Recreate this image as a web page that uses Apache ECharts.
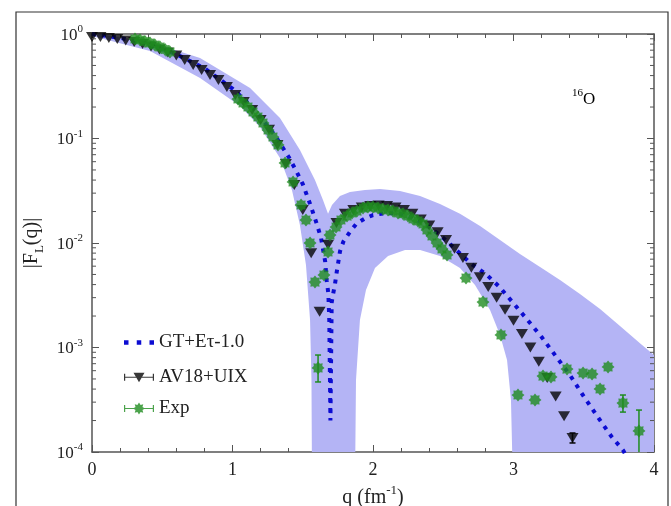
<!DOCTYPE html>
<html><head><meta charset="utf-8">
<script src="https://cdn.jsdelivr.net/npm/echarts@6/dist/echarts.min.js"></script>
<style>html,body{margin:0;padding:0;background:#fff}#c{width:671px;height:506px}</style>
</head><body><div id="c"></div>
<script>
// ---- data ----
const avQ = [0,0.06,0.12,0.18,0.24,0.30,0.36,0.42,0.48,0.54,0.60,0.66,0.72,0.78,0.84,0.90,0.96,1.02,1.08,1.14,1.20,1.26,1.32,1.38,1.44,1.50,1.56,1.62,1.68,1.74,1.80,1.86,1.92,1.98,2.04,2.10,2.16,2.22,2.28,2.34,2.40,2.46,2.52,2.58,2.64,2.70,2.76,2.82,2.88,2.94,3.00,3.06,3.12,3.18,3.24,3.30,3.36,3.42];
const avV = [0.936,0.936,0.916,0.896,0.867,0.838,0.802,0.759,0.711,0.665,0.623,0.564,0.505,0.452,0.405,0.363,0.311,0.261,0.224,0.187,0.150,0.121,0.0867,0.057,0.0359,0.0207,0.0080,0.0022,0.0096,0.0155,0.0190,0.0207,0.0219,0.0226,0.0229,0.0226,0.0219,0.0207,0.0190,0.0168,0.0147,0.0127,0.0107,0.0088,0.0072,0.0058,0.0047,0.0038,0.0030,0.0023,0.0018,0.00135,0.0010,0.00073,0.00051,0.00034,0.00022,0.000136];
const avErrQ = [3.42];
const avErrLo = [0.000122];
const avErrHi = [0.000152];

const expQ = [0.306,0.342,0.377,0.413,0.448,0.484,0.520,0.555,
  1.039,1.075,1.110,1.146,1.181,1.217,1.253,1.288,1.324,1.374,1.431,1.488,1.523,1.552,1.587,1.609,1.651,1.680,1.694,1.737,1.772,1.815,1.851,1.886,1.929,1.964,2.000,2.036,2.071,2.107,2.142,2.178,2.214,2.249,
  2.285,2.320,2.356,2.384,2.420,2.456,2.491,2.527,
  2.662,2.783,2.911,3.032,3.153,3.210,3.267,3.381,3.495,3.559,3.616,3.673,3.779,3.893];
const expV = [0.896,0.876,0.848,0.820,0.785,0.751,0.711,0.673,
  0.2387,0.2188,0.2001,0.1793,0.1606,0.1407,0.1206,0.1033,0.0867,0.0583,0.0384,0.0231,0.0166,0.0100,0.00423,0.000637,0.00494,0.0082,0.01193,0.01422,0.0166,0.0181,0.0194,0.0202,0.0216,0.0221,0.0221,0.0216,0.0211,0.0207,0.0202,0.0194,0.0190,0.0181,
  0.0170,0.01625,0.0152,0.01332,0.01167,0.0100,0.00877,0.00768,
  0.00462,0.00272,0.00132,0.000351,0.000315,0.000533,0.000522,0.000622,0.000570,0.000557,0.000401,0.000651,0.000294,0.000159];
const expErrQ = [1.609,3.779,3.893];
const expErrLo = [0.000468,0.000241,0.00008];
const expErrHi = [0.000847,0.000351,0.000252];

const gtQ = [0,0.2,0.4,0.6,0.8,1.0,1.1,1.2,1.3,1.4,1.45,1.5,1.55,1.6,1.63,1.66,1.67,1.682,1.689,1.697,1.706,1.717,1.73,1.742,1.765,1.789,1.836,1.884,1.943,2.0,2.1,2.2,2.3,2.4,2.5,2.6,2.7,2.8,2.9,3.0,3.1,3.2,3.3,3.4,3.5,3.6,3.7,3.78,3.85];
const gtV = [1.0,0.92,0.80,0.64,0.47,0.30,0.225,0.16,0.108,0.0665,0.050,0.0367,0.0241,0.0152,0.0112,0.0066,0.0044,0.0033,0.0018,0.0002,0.0027,0.0033,0.0041,0.0053,0.0083,0.0103,0.0128,0.0154,0.0172,0.0185,0.0194,0.0190,0.0170,0.0142,0.0112,0.0084,0.0063,0.0051,0.0038,0.00265,0.00183,0.00126,0.00083,0.00055,0.00034,0.000216,0.000139,0.000104,0.00007];

// uncertainty band of GT+Etau
const bandUpQ = [0,0.413,0.769,1.125,1.338,1.480,1.587,1.644,1.680,1.708,1.765,1.836,1.943,2.050,2.192,2.335,2.477,2.619,2.762,2.904,3.046,3.189,3.331,3.473,3.616,3.758,3.900,4.0];
const bandUpV = [1.02,0.838,0.589,0.304,0.157,0.0776,0.0401,0.0258,0.0190,0.0231,0.0282,0.0308,0.0322,0.0329,0.0315,0.0282,0.0236,0.0190,0.01455,0.01069,0.00785,0.00589,0.00443,0.00325,0.00234,0.00161,0.00110,0.000847];
const bandLoQ = [0,0.413,0.769,1.053,1.196,1.338,1.423,1.480,1.523,1.552,1.562,1.566];
const bandLoV = [0.957,0.688,0.379,0.2046,0.1288,0.0651,0.0321,0.01486,0.00616,0.00183,0.000489,0.00005];
const archQ = [1.872,1.879,1.907,1.950,2.014,2.107,2.228,2.335,2.477,2.619,2.726,2.833,2.904,2.954,2.982,2.996];
const archV = [0.00005,0.000489,0.00183,0.00355,0.00577,0.00751,0.00857,0.00857,0.00751,0.00577,0.00396,0.00229,0.00132,0.000759,0.000315,0.00005];
const bandFloor = 0.00001;

const yMinor = [0.0002,0.0003,0.0004,0.0005,0.0006,0.0007,0.0008,0.0009,
  0.002,0.003,0.004,0.005,0.006,0.007,0.008,0.009,
  0.02,0.03,0.04,0.05,0.06,0.07,0.08,0.09,
  0.2,0.3,0.4,0.5,0.6,0.7,0.8,0.9];

const names = ['GT+E\u03c4-1.0','AV18+UIX','Exp'];

// ---- build ----
const zip = (a,b) => a.map((v,i)=>[v,b[i]]);
const poly = [].concat(
  zip(bandUpQ,bandUpV),
  [[4,bandFloor],[archQ[archQ.length-1],bandFloor]],
  zip(archQ,archV).reverse(),
  [[archQ[0],bandFloor],[bandLoQ[bandLoQ.length-1],bandFloor]],
  zip(bandLoQ,bandLoV).reverse()
);

const SERIF = '"Liberation Serif","Times New Roman",serif';
const TXT = '#222';
const AX = '#555';
const supRich = {
  b:{fontFamily:SERIF,fontSize:17,color:TXT,lineHeight:20,verticalAlign:'bottom'},
  s:{fontFamily:SERIF,fontSize:11,color:TXT,lineHeight:10,verticalAlign:'top'}
};
const nameRich = {
  b:{fontFamily:SERIF,fontSize:20,color:TXT,lineHeight:24,verticalAlign:'bottom'},
  s:{fontFamily:SERIF,fontSize:13,color:TXT,lineHeight:12,verticalAlign:'top'}
};
const subRich = {
  b:{fontFamily:SERIF,fontSize:20,color:TXT,lineHeight:24,verticalAlign:'top'},
  l:{fontFamily:SERIF,fontSize:13,color:TXT,lineHeight:13,verticalAlign:'bottom'}
};
const STAR = 'path://M20,10L16.5,12.9L17.07,17.07L12.9,16.5L10,20L7.1,16.5L2.93,17.07L3.5,12.9L0,10L3.5,7.1L2.93,2.93L7.1,3.5L10,0L12.9,3.5L17.07,2.93L16.5,7.1Z';
const ICON_GT = 'path://M0,0H4.5V4.5H0Z M12.75,0H17.25V4.5H12.75Z M25.5,0H30V4.5H25.5Z';
const ICON_AV = 'path://M0,5.4H30V6.6H0Z M0,2.5H1.2V9.5H0Z M28.8,2.5H30V9.5H28.8Z M9.5,1.5H20.5L15,11Z';
const ICON_EXP = 'path://M0,5.4H30V6.6H0Z M0,2.5H1.2V9.5H0Z M28.8,2.5H30V9.5H28.8Z M21,6L18.5,7.6L19.24,10.24L16.6,9.5L15,12L13.4,9.5L10.76,10.24L11.5,7.6L9,6L11.5,4.4L10.76,1.76L13.4,2.5L15,0L16.6,2.5L19.24,1.76L18.5,4.4Z';
const GREEN = '#1f8c1f';
const BLUE = '#0c0cd2';

function clipRect(params){
  const cs = params.coordSys;
  return {type:'rect', shape:{x:cs.x,y:cs.y,width:cs.width,height:cs.height}};
}
function errBars(color){
  return function(params, api){
    const x = api.value(0);
    const p1 = api.coord([x, api.value(1)]);
    const p2 = api.coord([x, api.value(2)]);
    const w = 3;
    const st = {stroke:color, lineWidth:1.5};
    return {type:'group', clipPath: clipRect(params), children:[
      {type:'line', shape:{x1:p1[0],y1:p1[1],x2:p2[0],y2:p2[1]}, style:st},
      {type:'line', shape:{x1:p1[0]-w,y1:p1[1],x2:p1[0]+w,y2:p1[1]}, style:st},
      {type:'line', shape:{x1:p2[0]-w,y1:p2[1],x2:p2[0]+w,y2:p2[1]}, style:st}
    ]};
  };
}

const legendBase = {orient:'vertical', left:124, padding:0, itemWidth:30, itemHeight:12,
  textStyle:{fontFamily:SERIF, fontSize:19, color:TXT}, selectedMode:false};

const option = {
  animation:false,
  backgroundColor:'#fff',
  grid:{left:92, right:17, top:34, bottom:54, containLabel:false, outerBoundsMode:'none'},
  graphic:[
    {type:'rect', shape:{x:16,y:12,width:652,height:520}, style:{fill:'none',stroke:'#333',lineWidth:1.2}, silent:true, z:-10},
    {type:'text', left:572, top:88, style:{text:'{s|16}{b|O}', rich:supRich}, z:10}
  ],
  legend:[
    Object.assign({}, legendBase, {top:333, data:[{name:names[0], icon:ICON_GT}]}),
    Object.assign({}, legendBase, {top:368, data:[{name:names[1], icon:ICON_AV}]}),
    Object.assign({}, legendBase, {top:399, data:[{name:names[2], icon:ICON_EXP}]})
  ],
  xAxis:[{
    type:'value', min:0, max:4, interval:1, position:'bottom',
    axisLine:{show:true, onZero:false, lineStyle:{color:AX, width:1.5}},
    axisTick:{show:true, inside:true, length:7, lineStyle:{color:AX}},
    minorTick:{show:true, splitNumber:5, length:4, lineStyle:{color:AX}},
    splitLine:{show:false}, minorSplitLine:{show:false},
    axisLabel:{margin:9, fontFamily:SERIF, fontSize:18, color:TXT},
    name:'{b|q (fm}{s|-1}{b|)}', nameLocation:'middle', nameGap:29,
    nameTextStyle:{rich:nameRich}
  },{
    type:'value', min:0, max:4, interval:1, position:'top',
    axisLine:{show:true, onZero:false, lineStyle:{color:AX, width:1.5}},
    axisTick:{show:true, inside:true, length:7, lineStyle:{color:AX}},
    minorTick:{show:true, splitNumber:5, length:4, lineStyle:{color:AX}},
    splitLine:{show:false}, axisLabel:{show:false}
  }],
  yAxis:[{
    type:'log', logBase:10, min:0.0001, max:1, position:'left',
    axisLine:{show:true, onZero:false, lineStyle:{color:AX, width:1.5}},
    axisTick:{show:true, inside:true, length:7, lineStyle:{color:AX}},
    splitLine:{show:false},
    axisLabel:{margin:9, formatter:v => '{b|10}{s|' + Math.round(Math.log10(v)) + '}', rich:supRich},
    name:'{b||F}{l|L}{b|(q)|}', nameLocation:'middle', nameGap:45, nameRotate:90,
    nameTextStyle:{fontFamily:SERIF, fontSize:20, color:TXT, lineHeight:24, rich:subRich}
  },{
    type:'log', logBase:10, min:0.0001, max:1, position:'right',
    axisLine:{show:true, onZero:false, lineStyle:{color:AX, width:1.5}},
    axisTick:{show:true, inside:true, length:7, lineStyle:{color:AX}},
    splitLine:{show:false}, axisLabel:{show:false}
  }],
  series:[
    {
      type:'custom', name:'band', z:1, silent:true,
      data:[[0,1]],
      renderItem:function(params, api){
        return {type:'polygon', shape:{points: poly.map(p => api.coord(p))},
          style:{fill:'#b4b4f5'}, clipPath: clipRect(params)};
      }
    },
    {
      type:'line', name:names[0], z:2, data:zip(gtQ,gtV), symbol:'none', smooth:false,
      lineStyle:{color:BLUE, width:4, type:[4,6], cap:'butt'}, itemStyle:{color:BLUE}
    },
    {
      type:'scatter', name:names[1], z:3, data:zip(avQ,avV), symbol:'triangle', symbolRotate:180,
      symbolSize:[12,10], itemStyle:{color:'#050505'}
    },
    {
      type:'custom', name:'avErr', z:3, silent:true,
      data:avErrQ.map((q,i)=>[q,avErrLo[i],avErrHi[i]]),
      encode:{x:0, y:[1,2]}, renderItem:errBars('#050505')
    },
    {
      type:'custom', name:'expErr', z:4, silent:true,
      data:expErrQ.map((q,i)=>[q,expErrLo[i],expErrHi[i]]),
      encode:{x:0, y:[1,2]}, renderItem:errBars(GREEN)
    },
    {
      type:'scatter', name:names[2], z:5, data:zip(expQ,expV), symbol:STAR, symbolSize:13,
      itemStyle:{color:GREEN}
    },
    {
      type:'custom', name:'minorTicks', z:6, silent:true,
      data:[[0,1]],
      renderItem:function(params, api){
        const cs = params.coordSys;
        const ch = [];
        yMinor.forEach(m => {
          const y = api.coord([0,m])[1];
          ch.push({type:'line', shape:{x1:cs.x, y1:y, x2:cs.x+4, y2:y}, style:{stroke:AX, lineWidth:1}});
          ch.push({type:'line', shape:{x1:cs.x+cs.width-4, y1:y, x2:cs.x+cs.width, y2:y}, style:{stroke:AX, lineWidth:1}});
        });
        return {type:'group', children:ch};
      }
    }
  ]
};
const chart = echarts.init(document.getElementById('c'), null, {renderer:'canvas'});
chart.setOption(option);
</script>
</body></html>
